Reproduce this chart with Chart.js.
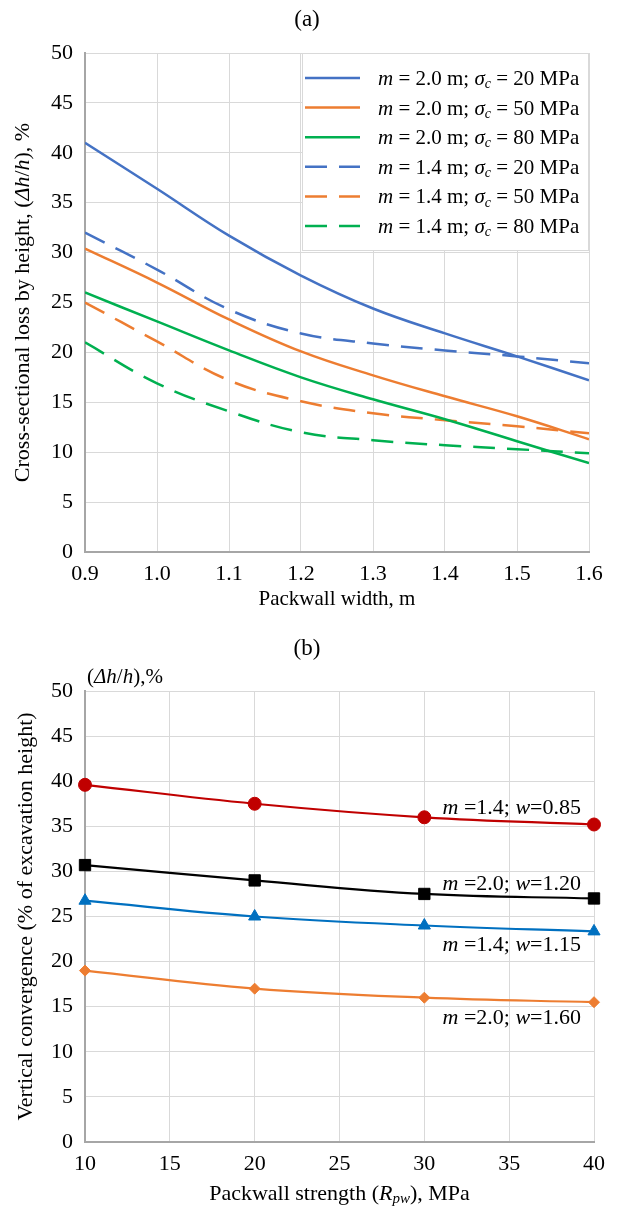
<!DOCTYPE html>
<html>
<head>
<meta charset="utf-8">
<script src="https://cdn.jsdelivr.net/npm/chart.js@4"></script>
<style>
  body { margin: 0; background: #fff; }
  #wrapA { position: absolute; left: 0; top: 0; }
  #wrapB { position: absolute; left: 0; top: 615px; }
</style>
</head>
<body>
<div id="wrapA"><canvas id="chartA" width="619" height="615"></canvas></div>
<div id="wrapB"><canvas id="chartB" width="619" height="591"></canvas></div>
<script>
// ---- (a) cross-sectional loss by height vs packwall width ----
const widthX = [0.9, 1.0, 1.1, 1.2, 1.3, 1.4, 1.5, 1.6];
const loss_m20_s20 = [41.0, 36.4, 31.7, 27.7, 24.4, 21.9, 19.6, 17.2];
const loss_m20_s50 = [30.4, 27.0, 23.3, 20.1, 17.7, 15.6, 13.6, 11.3];
const loss_m20_s80 = [26.0, 23.1, 20.2, 17.5, 15.3, 13.3, 11.1, 8.9];
const loss_m14_s20 = [32.0, 28.3, 24.3, 21.9, 20.9, 20.2, 19.6, 18.9];
const loss_m14_s50 = [25.0, 21.1, 17.2, 15.1, 13.9, 13.2, 12.6, 11.9];
const loss_m14_s80 = [21.0, 16.9, 14.1, 12.0, 11.2, 10.7, 10.3, 9.9];
const legendM = ['2.0', '2.0', '2.0', '1.4', '1.4', '1.4'];
const legendSigma = ['20', '50', '80', '20', '50', '80'];
const xTicksA = [0.9, 1.0, 1.1, 1.2, 1.3, 1.4, 1.5, 1.6];
const yTicks = [0, 5, 10, 15, 20, 25, 30, 35, 40, 45, 50];

// ---- (b) vertical convergence vs packwall strength ----
const strengthX = [10, 20, 30, 40];
const conv_m14_w085 = [39.6, 37.5, 36.0, 35.2];
const conv_m20_w120 = [30.7, 29.0, 27.5, 27.0];
const conv_m14_w115 = [26.75, 25.0, 24.0, 23.35];
const conv_m20_w160 = [19.0, 17.0, 16.0, 15.5];
const labelM = ['1.4', '2.0', '1.4', '2.0'];
const labelW = ['0.85', '1.20', '1.15', '1.60'];
const xTicksB = [10, 15, 20, 25, 30, 35, 40];

const SERIF = '"Liberation Serif", "Times New Roman", serif';
const BLUE = '#4472C4', ORANGE = '#ED7D31', GREEN = '#00B050';

// draw text made of parts: [text, style] style: '' normal, 'i' italic, 'isub' italic subscript
function partFont(style, size) {
  const sub = style.indexOf('sub') >= 0;
  const it = style.indexOf('i') === 0;
  return (it ? 'italic ' : '') + (sub ? Math.round(size * 0.68) : size) + 'px ' + SERIF;
}
function richWidth(ctx, parts, size) {
  let w = 0;
  parts.forEach(p => { ctx.font = partFont(p[1], size); w += ctx.measureText(p[0]).width; });
  return w;
}
function drawRich(ctx, parts, x, y, size, align) {
  const w = richWidth(ctx, parts, size);
  let cx = align === 'center' ? x - w / 2 : align === 'right' ? x - w : x;
  ctx.textBaseline = 'alphabetic';
  ctx.textAlign = 'left';
  ctx.fillStyle = '#000';
  parts.forEach(p => {
    ctx.font = partFont(p[1], size);
    const dy = p[1].indexOf('sub') >= 0 ? size * 0.15 : 0;
    ctx.fillText(p[0], cx, y + dy);
    cx += ctx.measureText(p[0]).width;
  });
}
function drawRotated(ctx, parts, x, y, size) {
  ctx.save();
  ctx.translate(x, y);
  ctx.rotate(-Math.PI / 2);
  drawRich(ctx, parts, 0, 0, size, 'center');
  ctx.restore();
}

function axisCommon(ticksArr, fmt) {
  return {
    type: 'linear',
    min: ticksArr[0],
    max: ticksArr[ticksArr.length - 1],
    afterBuildTicks: s => { s.ticks = ticksArr.map(v => ({ value: v })); },
    grid: { color: '#d9d9d9', lineWidth: 1, drawTicks: false },
    border: { color: '#a6a6a6', width: 2 },
    ticks: {
      color: '#000',
      font: { family: SERIF, size: 22 },
      callback: fmt,
      autoSkip: false,
      maxRotation: 0
    }
  };
}

// ---------------- chart (a) ----------------
const lossSets = [loss_m20_s20, loss_m20_s50, loss_m20_s80, loss_m14_s20, loss_m14_s50, loss_m14_s80];
const lossColors = [BLUE, ORANGE, GREEN, BLUE, ORANGE, GREEN];
const DASH = [22, 12];

const xA = axisCommon(xTicksA, v => v.toFixed(1));
xA.ticks.padding = 9;
xA.afterFit = s => { s.height = 63; };
const yA = axisCommon(yTicks, v => v);
yA.ticks.padding = 12;
yA.afterFit = s => { s.width = 85; };

const textA = {
  id: 'textA',
  afterDatasetsDraw(chart) {
    const ctx = chart.ctx, a = chart.chartArea;
    drawRich(ctx, [['(a)', '']], 307, 26, 23, 'center');
    drawRich(ctx, [['Packwall width, m', '']], (a.left + a.right) / 2, a.bottom + 53, 21, 'center');
    drawRotated(ctx, [['Cross-sectional loss by height, (', ''], ['\u0394h', 'i'], ['/', ''], ['h', 'i'], ['), %', '']],
      29, (a.top + a.bottom) / 2, 22);

    // legend box
    const bx = a.left + 217, by = a.top, bw = a.right - bx, bh = 198;
    ctx.save();
    ctx.fillStyle = '#fff';
    ctx.fillRect(bx, by, bw, bh);
    ctx.strokeStyle = '#d9d9d9';
    ctx.lineWidth = 1;
    ctx.strokeRect(bx + 0.5, by + 0.5, bw - 1, bh - 1);
    legendM.forEach((m, i) => {
      const ry = by + 25 + i * 29.6;
      ctx.beginPath();
      ctx.setLineDash(i >= 3 ? DASH : []);
      ctx.strokeStyle = lossColors[i];
      ctx.lineWidth = 2.5;
      ctx.moveTo(bx + 3, ry);
      ctx.lineTo(bx + 58, ry);
      ctx.stroke();
      ctx.setLineDash([]);
      drawRich(ctx, [['m', 'i'], [' = ' + m + ' m; ', ''], ['\u03c3', 'i'], ['c', 'isub'], [' = ' + legendSigma[i] + ' MPa', '']],
        bx + 76, ry + 7, 21, 'left');
    });
    ctx.restore();
  }
};

new Chart(document.getElementById('chartA'), {
  type: 'line',
  data: {
    datasets: lossSets.map((arr, i) => ({
      data: arr.map((v, k) => ({ x: widthX[k], y: v })),
      borderColor: lossColors[i],
      borderWidth: 2.5,
      borderDash: i >= 3 ? DASH : [],
      pointRadius: 0,
      tension: 0.4,
      fill: false
    }))
  },
  options: {
    responsive: false,
    animation: false,
    devicePixelRatio: 1,
    layout: { padding: { top: 53, right: 30, bottom: 0, left: 0 } },
    plugins: { legend: { display: false }, tooltip: { enabled: false } },
    scales: { x: xA, y: yA }
  },
  plugins: [textA]
});

// ---------------- chart (b) ----------------
const convSets = [conv_m14_w085, conv_m20_w120, conv_m14_w115, conv_m20_w160];
const convColors = ['#C00000', '#000000', '#0070C0', ORANGE];
const convStyles = ['circle', 'rect', 'triangle', 'rectRot'];
const convRadius = [6.5, 8, 7, 5.5];
const labelDy = [-10, -8, 20, 22];

const xB = axisCommon(xTicksB, v => v);
xB.ticks.padding = 9;
xB.afterFit = s => { s.height = 64; };
const yB = axisCommon(yTicks, v => v);
yB.ticks.padding = 12;
yB.afterFit = s => { s.width = 85; };

const textB = {
  id: 'textB',
  afterDatasetsDraw(chart) {
    const ctx = chart.ctx, a = chart.chartArea;
    const sx = chart.scales.x, sy = chart.scales.y;
    drawRich(ctx, [['(b)', '']], 307, 40, 23, 'center');
    drawRich(ctx, [['Packwall strength (', ''], ['R', 'i'], ['pw', 'isub'], ['), MPa', '']],
      (a.left + a.right) / 2, a.bottom + 58, 22, 'center');
    drawRotated(ctx, [['Vertical convergence (% of excavation height)', '']], 32, (a.top + a.bottom) / 2, 22);
    drawRich(ctx, [['(', ''], ['\u0394h', 'i'], ['/', ''], ['h', 'i'], ['),%', '']], a.left + 2, a.top - 8, 21, 'left');
    convSets.forEach((arr, i) => {
      const last = arr.length - 1;
      const px = sx.getPixelForValue(strengthX[last]);
      const py = sy.getPixelForValue(arr[last]);
      drawRich(ctx, [['m', 'i'], [' =' + labelM[i] + '; ', ''], ['w', 'i'], ['=' + labelW[i], '']],
        px - 13, py + labelDy[i], 22, 'right');
    });
  }
};

new Chart(document.getElementById('chartB'), {
  type: 'line',
  data: {
    datasets: convSets.map((arr, i) => ({
      data: arr.map((v, k) => ({ x: strengthX[k], y: v })),
      borderColor: convColors[i],
      backgroundColor: convColors[i],
      borderWidth: 2.2,
      pointStyle: convStyles[i],
      pointRadius: convRadius[i],
      pointBackgroundColor: convColors[i],
      pointBorderColor: convColors[i],
      pointBorderWidth: 1,
      tension: 0.4,
      clip: false,
      fill: false
    }))
  },
  options: {
    responsive: false,
    animation: false,
    devicePixelRatio: 1,
    layout: { padding: { top: 76, right: 25, bottom: 0, left: 0 } },
    plugins: { legend: { display: false }, tooltip: { enabled: false } },
    scales: { x: xB, y: yB }
  },
  plugins: [textB]
});
</script>
</body>
</html>
